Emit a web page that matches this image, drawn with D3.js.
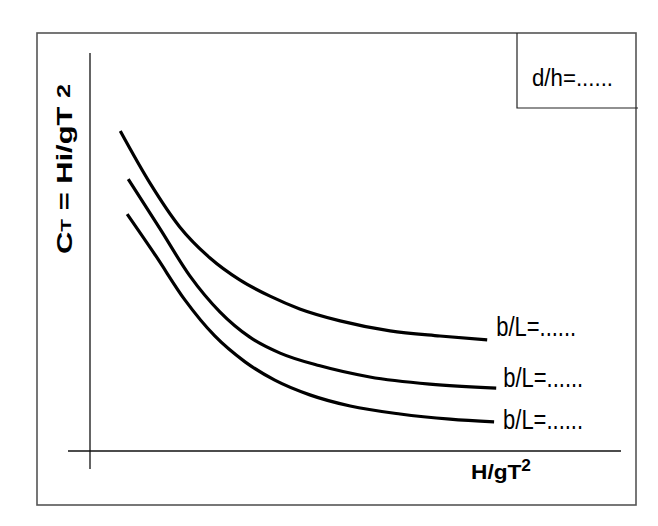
<!DOCTYPE html>
<html>
<head>
<meta charset="utf-8">
<script src="https://cdn.jsdelivr.net/npm/d3@7"></script>
<style>
  body { margin: 0; background: #fff; }
  svg text { font-family: "Liberation Sans", Arial, sans-serif; }
</style>
</head>
<body>
<div id="chart"></div>
<script>
// curve values (arbitrary units, axes have no ticks)
var x1 = [0.57, 1.13, 1.69, 2.26, 2.82, 3.39, 3.95, 4.71, 5.65, 6.59, 7.48],
    y1 = [8.04, 6.73, 5.63, 4.85, 4.30, 3.89, 3.57, 3.27, 3.02, 2.89, 2.79];
var x2 = [0.72, 1.32, 1.88, 2.45, 3.01, 3.58, 4.33, 5.27, 6.40, 7.65],
    y2 = [6.83, 5.58, 4.40, 3.49, 2.86, 2.46, 2.14, 1.86, 1.68, 1.58];
var x3 = [0.70, 1.24, 1.79, 2.35, 2.92, 3.48, 4.14, 4.90, 5.84, 6.78, 7.61],
    y3 = [5.95, 4.90, 3.79, 2.89, 2.24, 1.78, 1.41, 1.13, 0.93, 0.80, 0.73];
var curveLabels = ["b/L=......", "b/L=......", "b/L=......"];
var legendText = "d/h=......";

var width = 658, height = 526;

var svg = d3.select("#chart")
  .append("svg")
    .attr("width", width)
    .attr("height", height);

// scales: origin sits where the two axis lines cross
var x = d3.scaleLinear().domain([0, 10]).range([90, 621]);
var y = d3.scaleLinear().domain([0, 10]).range([451, 53]);

// outer frame
svg.append("rect")
  .attr("x", 37).attr("y", 33)
  .attr("width", 599).attr("height", 472)
  .attr("fill", "none")
  .attr("stroke", "#555")
  .attr("stroke-width", 1.6);

// legend box in the top right corner
svg.append("path")
  .attr("d", "M517,33 V108 H638")
  .attr("fill", "none")
  .attr("stroke", "#222")
  .attr("stroke-width", 1.2);
svg.append("text")
  .attr("x", 532).attr("y", 86)
  .attr("font-size", 23)
  .attr("textLength", 81)
  .attr("lengthAdjust", "spacingAndGlyphs")
  .text(legendText);

// axes: plain lines without ticks, crossing a little past the origin
svg.append("line")
  .attr("x1", x(0)).attr("x2", x(0))
  .attr("y1", y(10)).attr("y2", y(0) + 18)
  .attr("stroke", "#111").attr("stroke-width", 1.3);
svg.append("line")
  .attr("x1", x(0) - 22).attr("x2", x(10))
  .attr("y1", y(0)).attr("y2", y(0))
  .attr("stroke", "#111").attr("stroke-width", 1.3);

// curves
var series = [d3.zip(x1, y1), d3.zip(x2, y2), d3.zip(x3, y3)];
var line = d3.line()
  .x(function(d) { return x(d[0]); })
  .y(function(d) { return y(d[1]); })
  .curve(d3.curveMonotoneX);

svg.append("g")
  .selectAll("path")
  .data(series)
  .enter()
  .append("path")
    .attr("d", line)
    .attr("fill", "none")
    .attr("stroke", "#000")
    .attr("stroke-width", 3.2);

// b/L labels just past the end of each curve
var labelDx = [9, 7, 9], labelDy = [-4, -1, 7];
svg.append("g")
  .selectAll("text")
  .data(series)
  .enter()
  .append("text")
    .attr("x", function(d, i) { var e = d[d.length - 1]; return x(e[0]) + labelDx[i]; })
    .attr("y", function(d, i) { var e = d[d.length - 1]; return y(e[1]) + labelDy[i]; })
    .attr("font-size", 27)
    .attr("textLength", 80)
    .attr("lengthAdjust", "spacingAndGlyphs")
    .text(function(d, i) { return curveLabels[i]; });

// x axis title
var xt = svg.append("text")
  .attr("x", 471).attr("y", 479)
  .attr("font-size", 21)
  .attr("font-weight", "bold")
  .attr("textLength", 60)
  .attr("lengthAdjust", "spacingAndGlyphs");
xt.append("tspan").text("H/gT");
xt.append("tspan").attr("font-size", 16).attr("dy", -8).text("2");

// y axis title, rotated and stretched along its length
var yt = svg.append("text")
  .attr("transform", "translate(72,254) rotate(-90)")
  .attr("font-size", 22)
  .attr("font-weight", "bold")
  .attr("textLength", 170)
  .attr("lengthAdjust", "spacingAndGlyphs");
yt.append("tspan").text("C");
yt.append("tspan").attr("font-size", 15).attr("dy", -1).text("T");
yt.append("tspan").attr("dy", 1).text("  = Hi/gT ");
yt.append("tspan").attr("font-size", 18).attr("dy", -2).text("2");
</script>
</body>
</html>
